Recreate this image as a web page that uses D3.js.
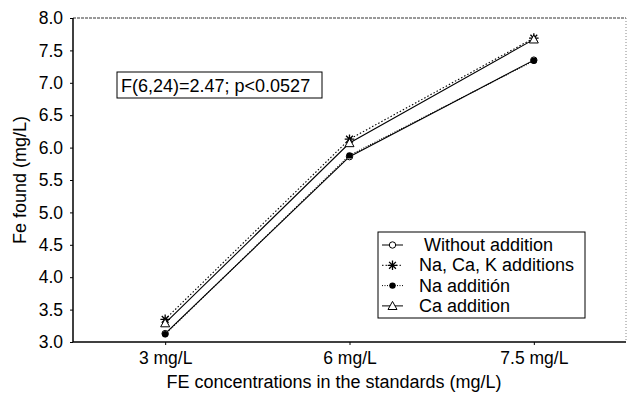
<!DOCTYPE html>
<html>
<head>
<meta charset="utf-8">
<script src="https://cdn.jsdelivr.net/npm/d3@7"></script>
<style>
  body { margin: 0; background: #fff; }
  text { font-family: "Liberation Sans", Arial, sans-serif; fill: #000; }
</style>
</head>
<body>
<div id="chart"></div>
<script>
// Chart data
const categories = ["3 mg/L", "6 mg/L", "7.5 mg/L"];
const seriesNames = ["Without addition", "Na, Ca, K additions", "Na additi\u00f3n", "Ca addition"];
const withoutAddition = [3.13, 5.86, 7.35];
const naCaKAdditions = [3.35, 6.13, 7.69];
const naAddition = [3.12, 5.88, 7.34];
const caAddition = [3.29, 6.07, 7.67];
const yTicks = [3.0, 3.5, 4.0, 4.5, 5.0, 5.5, 6.0, 6.5, 7.0, 7.5, 8.0];
const statText = "F(6,24)=2.47; p<0.0527";

const width = 630, height = 396;
const margin = {top: 18, right: 4, bottom: 54, left: 73};

const svg = d3.select("#chart").append("svg")
  .attr("width", width)
  .attr("height", height);

const x = d3.scalePoint()
  .domain(categories)
  .range([margin.left, width - margin.right])
  .padding(0.5);

const y = d3.scaleLinear()
  .domain([3, 8])
  .range([height - margin.bottom, margin.top]);

// frame: top and right are faint dotted lines, left and bottom solid
svg.append("line")
  .attr("x1", margin.left).attr("x2", width - margin.right)
  .attr("y1", margin.top).attr("y2", margin.top)
  .attr("stroke", "#333").attr("stroke-dasharray", "3,1");
svg.append("line")
  .attr("x1", width - margin.right).attr("x2", width - margin.right)
  .attr("y1", margin.top).attr("y2", height - margin.bottom)
  .attr("stroke", "#888").attr("stroke-dasharray", "1,2");

// axes
const yAxis = svg.append("g")
  .attr("transform", `translate(${margin.left},0)`)
  .call(d3.axisLeft(y).tickValues(yTicks).tickFormat(d3.format(".1f")).tickSize(3).tickPadding(7));
const xAxis = svg.append("g")
  .attr("transform", `translate(0,${height - margin.bottom})`)
  .call(d3.axisBottom(x).tickSize(3).tickPadding(7));

[yAxis, xAxis].forEach(a => {
  a.select(".domain").attr("stroke", "#000").attr("stroke-width", 1.5);
  a.selectAll(".tick line").attr("stroke", "#000");
  a.selectAll(".tick text").style("font-size", "17.5px")
    .style("font-family", "'Liberation Sans', Arial, sans-serif");
});
xAxis.select(".domain").attr("d", `M${margin.left},0H${width - margin.right}`);
yAxis.select(".domain").attr("d", `M0,${margin.top}V${height - margin.bottom}`);

// axis titles
svg.append("text")
  .attr("x", 334)
  .attr("y", 388)
  .attr("text-anchor", "middle")
  .style("font-size", "18px")
  .text("FE concentrations in the standards (mg/L)");

svg.append("text")
  .attr("transform", `translate(26,${(margin.top + height - margin.bottom) / 2}) rotate(-90)`)
  .attr("text-anchor", "middle")
  .style("font-size", "18px")
  .text("Fe found (mg/L)");

// series
const series = [
  {name: seriesNames[0], values: withoutAddition, dash: null, marker: "circle"},
  {name: seriesNames[1], values: naCaKAdditions, dash: "1.5,2", marker: "star"},
  {name: seriesNames[2], values: naAddition, dash: "1,1.5", marker: "dot"},
  {name: seriesNames[3], values: caAddition, dash: null, marker: "triangle"}
];

const line = d3.line()
  .x((d, i) => x(categories[i]))
  .y(d => y(d));

function drawMarker(g, type, cx, cy) {
  if (type === "circle") {
    g.append("circle").attr("cx", cx).attr("cy", cy).attr("r", 3.2)
      .attr("fill", "#fff").attr("stroke", "#000").attr("stroke-width", 1);
  } else if (type === "dot") {
    g.append("circle").attr("cx", cx).attr("cy", cy).attr("r", 3.2)
      .attr("fill", "#000");
  } else if (type === "triangle") {
    const s = 4.5;
    g.append("path")
      .attr("d", `M${cx},${cy - s}L${cx + s},${cy + s * 0.8}L${cx - s},${cy + s * 0.8}Z`)
      .attr("fill", "#fff").attr("stroke", "#000").attr("stroke-width", 1);
  } else if (type === "star") {
    const s = 4.8;
    let d = "";
    [0, 45, 90, 135].forEach(a => {
      const r = a * Math.PI / 180;
      d += `M${cx - s * Math.cos(r)},${cy - s * Math.sin(r)}L${cx + s * Math.cos(r)},${cy + s * Math.sin(r)}`;
    });
    g.append("path").attr("d", d).attr("stroke", "#000").attr("stroke-width", 1.3);
  }
}

series.forEach(s => {
  svg.append("path")
    .datum(s.values)
    .attr("d", line)
    .attr("fill", "none")
    .attr("stroke", "#000")
    .attr("stroke-width", 1.1)
    .attr("stroke-dasharray", s.dash);
});
series.forEach(s => {
  const g = svg.append("g");
  s.values.forEach((v, i) => drawMarker(g, s.marker, x(categories[i]), y(v)));
});

// statistics box
const stat = svg.append("g");
stat.append("rect")
  .attr("x", 117).attr("y", 72).attr("width", 205).attr("height", 26)
  .attr("fill", "#fff").attr("stroke", "#000");
stat.append("text")
  .attr("x", 121).attr("y", 92)
  .style("font-size", "18px")
  .text(statText);

// legend
const legend = svg.append("g").attr("transform", "translate(378,232)");
legend.append("rect")
  .attr("width", 207).attr("height", 86)
  .attr("fill", "#fff").attr("stroke", "#000");
series.forEach((s, i) => {
  const ly = 13 + i * 20.3;
  legend.append("line")
    .attr("x1", 4).attr("x2", 25).attr("y1", ly).attr("y2", ly)
    .attr("stroke", "#000").attr("stroke-dasharray", s.dash);
  drawMarker(legend, s.marker, 14.5, ly);
  legend.append("text")
    .attr("x", i === 0 ? 46 : 41).attr("y", ly + 6)
    .style("font-size", "18px")
    .text(s.name);
});
</script>
</body>
</html>
